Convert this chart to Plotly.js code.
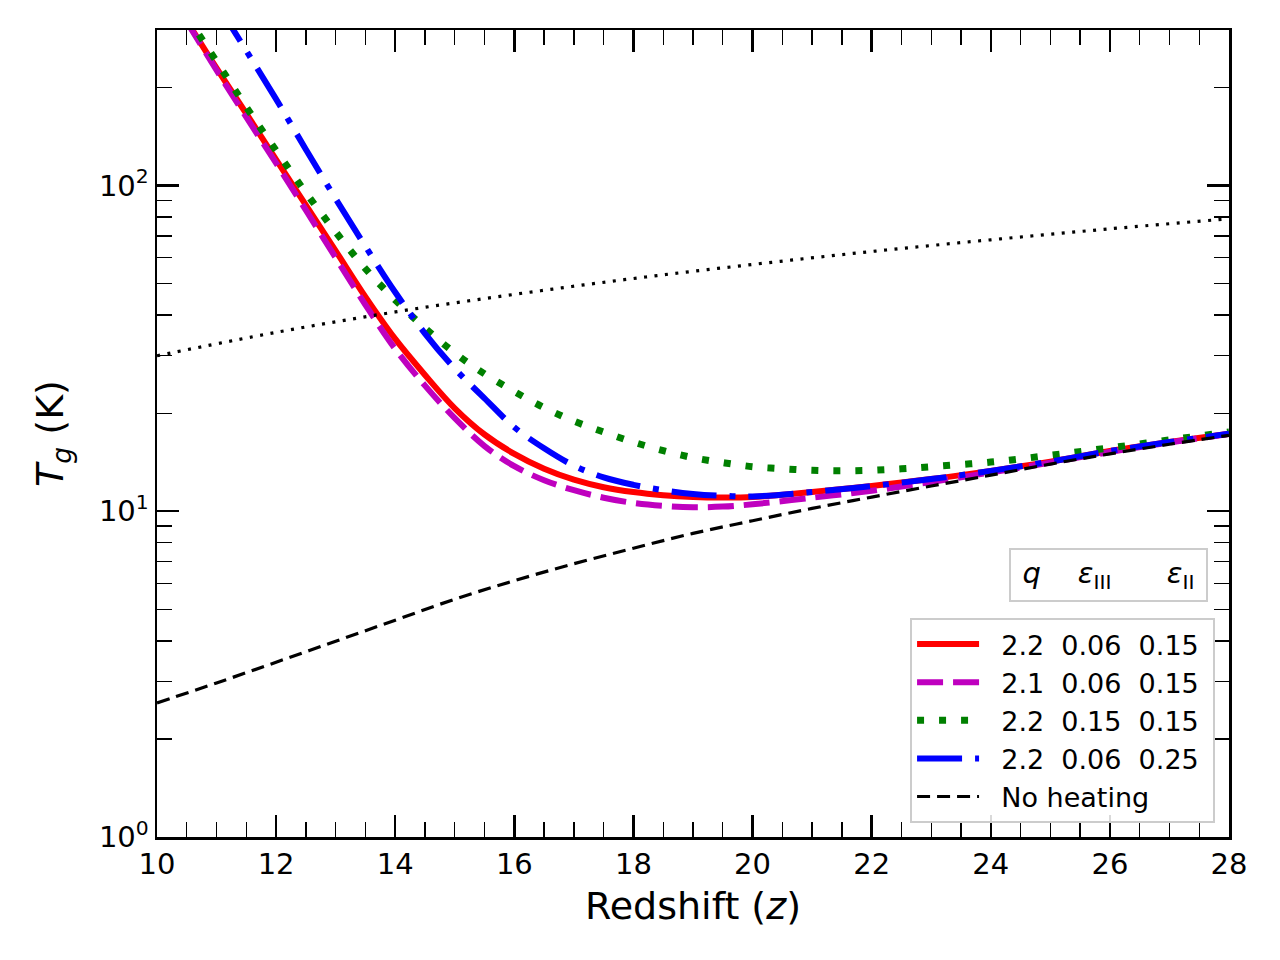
<!DOCTYPE html>
<html>
<head>
<meta charset="utf-8">
<script src="https://cdn.plot.ly/plotly-3.0.1.min.js"></script>
<style>
  html, body { margin: 0; padding: 0; background: #fff; }
  #chart { width: 1280px; height: 960px; }
</style>
</head>
<body>
<div id="chart"></div>
<script>
// ---- data ----
const zRed = [10.5, 11, 11.5, 12, 12.5, 13, 13.5, 14, 14.5, 15, 15.5, 16, 16.5, 17, 17.5, 18, 18.5, 19, 19.5, 20, 21, 22, 23, 24, 25, 26, 27, 28];
const tRed = [320, 229, 166, 120, 87, 63, 45.5, 33.8, 26.2, 20.7, 17.2, 15.0, 13.5, 12.5, 11.85, 11.45, 11.2, 11.06, 11.02, 11.06, 11.45, 11.95, 12.55, 13.3, 14.2, 15.3, 16.3, 17.3];

const zMag = [10.5, 11, 11.5, 12, 12.5, 13, 13.5, 14, 14.5, 15, 15.5, 16, 16.5, 17, 17.5, 18, 18.5, 19, 19.5, 20, 21, 22, 23, 24, 25, 26, 27, 28];
const tMag = [318, 226, 162, 117, 84, 60, 43, 31.5, 24.3, 19.3, 15.85, 13.75, 12.45, 11.6, 11.0, 10.6, 10.38, 10.28, 10.33, 10.5, 11.0, 11.55, 12.3, 13.15, 14.1, 15.2, 16.25, 17.25];

const zGrn = [10.5, 11, 11.5, 12, 12.5, 13, 13.5, 14, 14.5, 15, 15.5, 16, 16.5, 17, 17.5, 18, 18.5, 19, 19.5, 20, 20.5, 21, 21.5, 22, 22.5, 23, 24, 25, 26, 27, 28];
const tGrn = [331, 240, 174, 128, 95, 72, 55.5, 44.5, 36.5, 30.6, 26.4, 23.3, 20.8, 18.9, 17.5, 16.3, 15.35, 14.6, 14.1, 13.7, 13.5, 13.35, 13.3, 13.35, 13.5, 13.7, 14.15, 14.85, 15.65, 16.55, 17.5];

const zBlu = [11, 11.5, 12, 12.5, 13, 13.5, 14, 14.5, 15, 15.5, 16, 16.5, 17, 17.5, 18, 18.5, 19, 19.5, 20, 21, 22, 23, 24, 25, 26, 27, 28];
const tBlu = [363, 259, 184, 129, 91, 65, 47.0, 35.1, 27.4, 22.2, 18.1, 15.6, 13.8, 12.7, 12.05, 11.6, 11.3, 11.15, 11.1, 11.45, 11.95, 12.55, 13.3, 14.2, 15.3, 16.3, 17.3];

const zNoHeat = [10, 11, 12, 13, 14, 15, 16, 17, 18, 19, 20, 21, 22, 23, 24, 25, 26, 27, 28];
const tNoHeat = [2.58, 2.97, 3.44, 3.99, 4.63, 5.37, 6.12, 6.9, 7.7, 8.55, 9.35, 10.2, 11.05, 11.95, 12.9, 13.95, 15.0, 16.05, 17.1];

const zCMB = [10, 12, 14, 16, 18, 20, 22, 24, 26, 28];
const tCMB = [30.0, 35.4, 40.9, 46.3, 51.8, 57.2, 62.7, 68.1, 73.6, 79.0];

const NB = "\u00a0";
const legendLabels = [
  NB + NB + "2.2" + NB + NB + "0.06" + NB + NB + "0.15" + NB,
  NB + NB + "2.1" + NB + NB + "0.06" + NB + NB + "0.15" + NB,
  NB + NB + "2.2" + NB + NB + "0.15" + NB + NB + "0.15" + NB,
  NB + NB + "2.2" + NB + NB + "0.06" + NB + NB + "0.25" + NB,
  NB + NB + "No heating"
];

const yMajorVals = [1, 10, 100];
const yMajorText = ["10<sup>0</sup>", "10<sup>1</sup>", "10<sup>2</sup>"];
const yMinorVals = [2, 3, 4, 5, 6, 7, 8, 9, 20, 30, 40, 50, 60, 70, 80, 90, 200, 300];

const FONT = "DejaVu Sans, Liberation Sans, sans-serif";

const traces = [
  { x: zRed, y: tRed, name: legendLabels[0], legendgroup: "a", mode: "lines",
    line: { color: "#ff0000", width: 6, shape: "spline" } },
  { x: zMag, y: tMag, name: legendLabels[1], legendgroup: "b", mode: "lines",
    line: { color: "#bf00bf", width: 6, dash: "26px,10px", shape: "spline" } },
  { x: zGrn, y: tGrn, name: legendLabels[2], legendgroup: "c", mode: "lines",
    line: { color: "#008000", width: 7, dash: "7px,15px", shape: "spline" } },
  { x: zBlu, y: tBlu, name: legendLabels[3], legendgroup: "d", mode: "lines",
    line: { color: "#0000ff", width: 6, dash: "45px,13px,6px,13px", shape: "spline" } },
  { x: zNoHeat, y: tNoHeat, name: legendLabels[4], legendgroup: "e", mode: "lines",
    line: { color: "#000000", width: 3.2, dash: "13px,7px", shape: "spline" } },
  { x: zCMB, y: tCMB, name: "CMB", showlegend: false, mode: "lines",
    line: { color: "#000000", width: 3.2, dash: "3px,7.5px", shape: "spline" } }
];

const layout = {
  width: 1280, height: 960,
  margin: { l: 157, r: 51, t: 30, b: 123, pad: 0 },
  paper_bgcolor: "#ffffff", plot_bgcolor: "#ffffff",
  font: { family: FONT, color: "#000", size: 29 },
  showlegend: true,
  xaxis: {
    range: [10, 28], dtick: 2, tick0: 10,
    showgrid: false, zeroline: false,
    showline: true, linecolor: "#000", linewidth: 2.5, mirror: "allticks",
    ticks: "inside", ticklen: 22, tickwidth: 2.5, tickcolor: "#000",
    tickfont: { family: FONT, size: 29, color: "#000" },
    minor: { dtick: 0.5, tick0: 10, ticks: "inside", ticklen: 15, tickwidth: 1.3, tickcolor: "#000", showgrid: false },
    title: { text: "Redshift (<i>z</i>)", font: { family: FONT, size: 38, color: "#000" }, standoff: 12 }
  },
  yaxis: {
    type: "log", range: [0, Math.log10(300)],
    tickmode: "array", tickvals: yMajorVals, ticktext: yMajorText,
    showgrid: false, zeroline: false,
    showline: true, linecolor: "#000", linewidth: 2.5, mirror: "allticks",
    ticks: "inside", ticklen: 22, tickwidth: 2.5, tickcolor: "#000",
    tickfont: { family: FONT, size: 29, color: "#000" },
    minor: { tickmode: "array", tickvals: yMinorVals, ticks: "inside", ticklen: 15, tickwidth: 1.3, tickcolor: "#000", showgrid: false },
    title: { text: "<i>T</i><sub><i>g</i></sub> (K)", font: { family: FONT, size: 38, color: "#000" }, standoff: 24 }
  },
  legend: {
    x: 0.987, y: 0.0173, xanchor: "right", yanchor: "bottom",
    bgcolor: "rgba(255,255,255,0.85)", bordercolor: "#cccccc", borderwidth: 2,
    font: { family: FONT, size: 27, color: "#000" },
    itemwidth: 62, tracegroupgap: 10, traceorder: "normal"
  },
  annotations: [
    {
      xref: "paper", yref: "paper", x: 0.9804, y: 0.291, xanchor: "right", yanchor: "bottom",
      text: "<i>q</i>" + NB + NB + NB + NB + "<i>ε</i><sub>III</sub>" + NB + NB + NB + NB + NB + NB + "<i>ε</i><sub>II</sub>",
      showarrow: false, align: "center",
      width: 187, height: 42,
      font: { family: FONT, size: 29, color: "#000" },
      bgcolor: "#ffffff", bordercolor: "#cccccc", borderwidth: 2, borderpad: 4
    }
  ]
};

Plotly.newPlot("chart", traces, layout, { staticPlot: true, displayModeBar: false });
</script>
</body>
</html>
